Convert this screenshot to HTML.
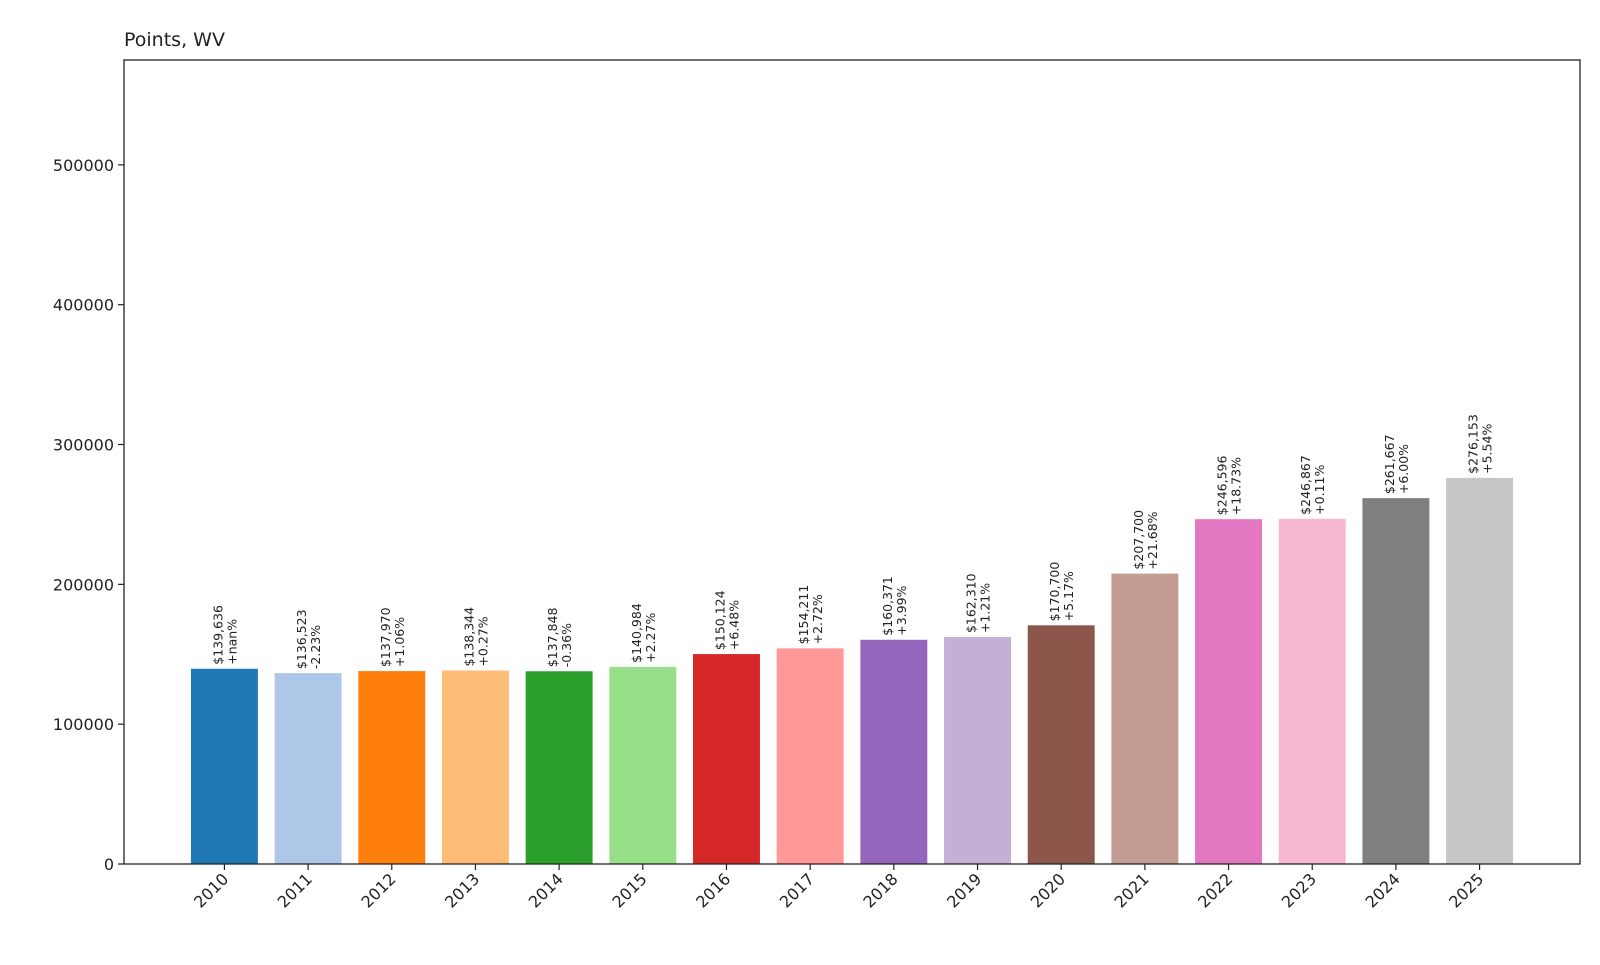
<!DOCTYPE html>
<html><head><meta charset="utf-8"><style>
body{margin:0;background:#fff;}
svg text{font-family:"DejaVu Sans","Liberation Sans",sans-serif;fill:#222;}
</style></head><body>
<svg id="chart" width="1600" height="960" xmlns="http://www.w3.org/2000/svg">
<rect width="1600" height="960" fill="#fff"/>
<text x="124" y="46" font-size="19">Points, WV</text>
<g id="bars"></g>
<g id="yaxis"></g>
<g id="xaxis"></g>
<rect x="124" y="60" width="1456" height="804" fill="none" stroke="#222" stroke-width="1.3"/>
</svg>
<script>
const years=["2010","2011","2012","2013","2014","2015","2016","2017","2018","2019","2020","2021","2022","2023","2024","2025"];
const values=[139636,136523,137970,138344,137848,140984,150124,154211,160371,162310,170700,207700,246596,246867,261667,276153];
const changes=["+nan%","-2.23%","+1.06%","+0.27%","-0.36%","+2.27%","+6.48%","+2.72%","+3.99%","+1.21%","+5.17%","+21.68%","+18.73%","+0.11%","+6.00%","+5.54%"];
const colors=["#1f77b4","#aec7e8","#ff7f0e","#ffbb78","#2ca02c","#98df8a","#d62728","#ff9896","#9467bd","#c5b0d5","#8c564b","#c49c94","#e377c2","#f7b6d2","#7f7f7f","#c7c7c7"];
const yTicks=[0,100000,200000,300000,400000,500000];
const L=124,R=1580,T=60,B=864,YMAX=575000;
const step=(R-L)/(years.length-1+2.4);
const xs=i=>L+(i+1.2)*step;
const ys=v=>B-(v/YMAX)*(B-T);
const NS="http://www.w3.org/2000/svg";
function mk(tag,attrs,parent){const e=document.createElementNS(NS,tag);for(const k in attrs)e.setAttribute(k,attrs[k]);parent.appendChild(e);return e;}
const gb=document.getElementById('bars'),gy=document.getElementById('yaxis'),gx=document.getElementById('xaxis');
const bw=step*0.8;
values.forEach((v,i)=>{
  const r=mk('rect',{x:xs(i)-bw/2,y:ys(v),width:bw,height:B-ys(v),fill:colors[i]},gb);
  
  
  const t=mk('text',{transform:`translate(${xs(i)},${ys(v)-4}) rotate(-90)`,'font-size':'12.5'},gb);
  
  
  const a=mk('tspan',{x:0,dy:'-2'},t);a.textContent='$'+v.toLocaleString('en-US');
  const b=mk('tspan',{x:0,dy:'14'},t);b.textContent=changes[i];
  const tk=mk('line',{x1:xs(i),x2:xs(i),y1:B,y2:B+6,stroke:'#222','stroke-width':1.2},gx);
  
  
  const xl=mk('text',{transform:`translate(${xs(i)+5},${B+16}) rotate(-45)`,'font-size':'16','text-anchor':'end'},gx);
  
  
  xl.textContent=years[i];
});
yTicks.forEach(v=>{
  const tk=mk('line',{x1:L-6,x2:L,y1:ys(v),y2:ys(v),stroke:'#222','stroke-width':1.2},gy);
  
  
  const t=mk('text',{x:L-10,y:ys(v)+6,'font-size':'16','text-anchor':'end'},gy);
  
  
  t.textContent=String(v);
});
</script>
</body></html>
